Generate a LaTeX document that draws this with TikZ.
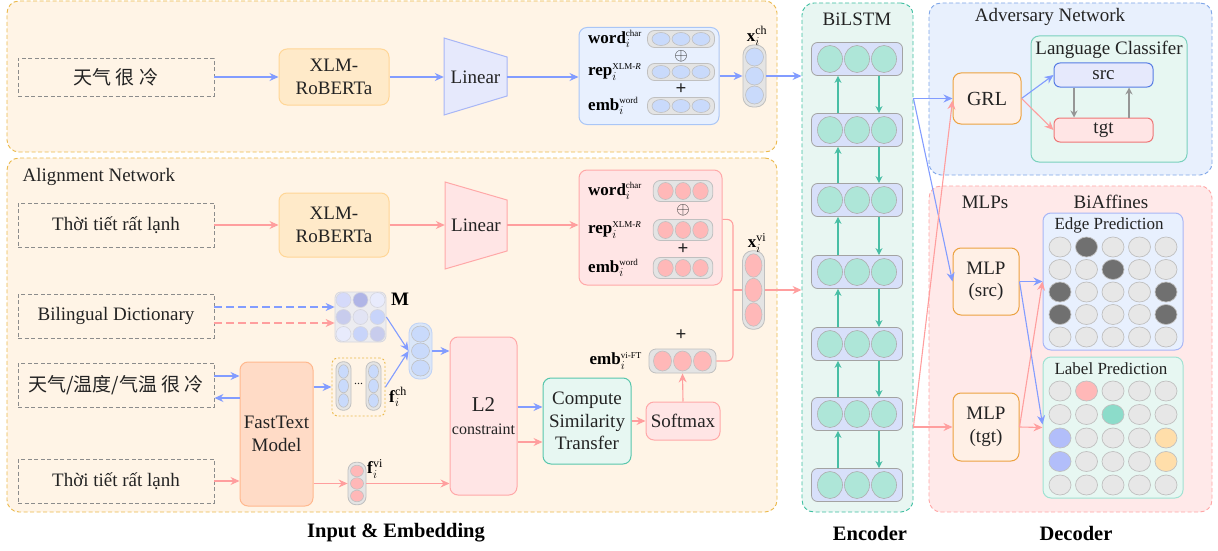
\documentclass[tikz,border=0pt]{standalone}
\usepackage{amsmath}
\usepackage{fontspec}
\setmainfont{Liberation Serif}
\newfontfamily\cjk{Noto Sans CJK SC}
\usetikzlibrary{arrows.meta,shapes.geometric,calc}

% colours
\definecolor{arrblue}{RGB}{130,156,255}
\definecolor{arrpink}{RGB}{255,158,158}
\definecolor{arrteal}{RGB}{72,190,165}
\definecolor{arrgray}{RGB}{150,150,150}
\definecolor{panfill}{RGB}{255,244,230}
\definecolor{panline}{RGB}{235,185,75}
\definecolor{encfill}{RGB}{232,246,242}
\definecolor{encline}{RGB}{60,190,160}
\definecolor{advfill}{RGB}{232,240,253}
\definecolor{advline}{RGB}{125,165,232}
\definecolor{decfill}{RGB}{255,233,233}
\definecolor{decline}{RGB}{255,165,165}
\definecolor{xlmfill}{RGB}{255,234,201}
\definecolor{xlmline}{RGB}{255,214,150}
\definecolor{lavfill}{RGB}{230,233,252}
\definecolor{lavline}{RGB}{168,182,246}
\definecolor{rosefill}{RGB}{255,229,229}
\definecolor{roseline}{RGB}{255,168,168}
\definecolor{skyfill}{RGB}{232,240,254}
\definecolor{skyline}{RGB}{170,198,246}
\definecolor{mintfill}{RGB}{231,247,242}
\definecolor{mintline}{RGB}{88,198,172}
\definecolor{mintsoft}{RGB}{160,226,210}
\definecolor{peachfill}{RGB}{255,219,198}
\definecolor{peachline}{RGB}{255,184,142}
\definecolor{grlfill}{RGB}{255,240,230}
\definecolor{grlline}{RGB}{236,162,64}
\definecolor{srcline}{RGB}{86,124,228}
\definecolor{tgtline}{RGB}{238,118,118}
\definecolor{pillfill}{RGB}{228,228,228}
\definecolor{pillline}{RGB}{192,192,192}
\definecolor{combfill}{RGB}{218,230,248}
\definecolor{combline}{RGB}{190,210,246}
\definecolor{dotblue}{RGB}{201,218,251}
\definecolor{dotpink}{RGB}{255,184,184}
\definecolor{dotteal}{RGB}{174,230,216}
\definecolor{cellfill}{RGB}{216,224,250}
\definecolor{dotgray}{RGB}{231,231,231}
\definecolor{dotdark}{RGB}{112,112,112}
\definecolor{dotmint}{RGB}{140,220,202}
\definecolor{dotsky}{RGB}{178,190,250}
\definecolor{dotsand}{RGB}{255,222,170}
\definecolor{mfill}{RGB}{236,236,240}
\definecolor{mline}{RGB}{214,214,222}
\definecolor{ma}{RGB}{213,218,250}
\definecolor{mb}{RGB}{176,181,230}
\definecolor{mc}{RGB}{232,235,252}
\definecolor{md}{RGB}{200,204,237}
\definecolor{me}{RGB}{226,228,244}
\definecolor{mf}{RGB}{200,212,250}
\definecolor{boxgray}{RGB}{140,140,140}
\definecolor{textgray}{RGB}{35,35,35}

% symbols with index i
\newcommand{\embsym}[2]{\textbf{#1}$_{i}^{\text{\fontsize{9}{10}\selectfont #2}}$}
\newcommand{\vecsym}[2]{\textbf{#1}$_{i}^{\text{\fontsize{12}{12}\selectfont #2}}$}

% lying pill with three dots: name, x, y, dot colour, spacing, height
\newcommand{\hpill}[6]{%
  \node[pillh, minimum width={(3*#5+7)*1pt}, minimum height={#6*1pt}] (#1) at (#2,#3) {};
  \foreach \pk/\po in {a/-1,b/0,c/1}
    \node[pdot, fill=#4, minimum width={(#5-2)*1pt}, minimum height={(#6-4)*1pt}] (#1\pk) at ({#2+\po*#5},#3) {};
}
% standing pill with three dots: name, x, y, width, spacing, dot colour, pill style
\newcommand{\vpill}[7]{%
  \node[pillv, minimum width={#4*1pt}, minimum height={(3*#5+5)*1pt}, #7] (#1) at (#2,#3) {};
  \foreach \pk/\po in {a/-1,b/0,c/1}
    \node[pdot, fill=#6, minimum width={(#4-5)*1pt}, minimum height={(#5-1)*1pt}] (#1\pk) at (#2,{#3+\po*#5}) {};
}

\tikzset{
  txtbase/.style={font=\fontsize{19}{22.5}\selectfont, text=textgray},
  paneldash/.style={rectangle, rounded corners=12pt, dashed, dash pattern=on 4pt off 2.5pt, line width=0.9pt, inner sep=0pt},
  inbox/.style={txtbase, draw=boxgray, dashed, dash pattern=on 4pt off 2.5pt, line width=0.9pt, minimum width=196pt, minimum height=44pt, inner sep=0pt},
  blockbox/.style={txtbase, rectangle, rounded corners=8pt, line width=1pt, align=center, inner sep=0pt},
  pillh/.style={rectangle, rounded corners=7pt, draw=pillline, fill=pillfill, line width=0.8pt, inner sep=0pt},
  pillv/.style={rectangle, rounded corners=7pt, draw=pillline, fill=pillfill, line width=0.8pt, inner sep=0pt},
  pdot/.style={ellipse, draw=pillline, line width=0.6pt, inner sep=0pt},
  cellbox/.style={rectangle, rounded corners=6pt, draw=pillline!85!black, fill=cellfill, line width=0.8pt, minimum width=91pt, minimum height=33pt, inner sep=0pt},
  mdot/.style={ellipse, draw=pillline, line width=0.7pt, minimum width=22pt, minimum height=20pt, inner sep=0pt},
  blink/.style={draw=arrblue, line width=1.1pt, -{Stealth[length=9pt,width=8pt]}},
  plink/.style={draw=arrpink, line width=1.1pt, -{Stealth[length=9pt,width=8pt]}},
  tlink/.style={draw=arrteal, line width=1.1pt, -{Stealth[length=7pt,width=7pt]}},
  glink/.style={draw=arrgray, line width=1.3pt, -{Stealth[length=7pt,width=7pt]}},
  capt/.style={font=\fontsize{20.5}{24}\selectfont\bfseries, text=black},
  ttl/.style={font=\fontsize{19}{22}\selectfont, text=textgray},
  subttl/.style={font=\fontsize{17}{20}\selectfont, text=textgray},
  symlab/.style={font=\fontsize{17}{19}\selectfont, text=black, inner sep=0pt},
}

\begin{document}
\begin{tikzpicture}[x=1pt,y=-1pt]
\useasboundingbox (0,0) rectangle (1218,551);
% Drawing panels
\node[paneldash, draw=panline, fill=panfill, minimum width=770pt, minimum height=151pt] (inpan) at (392,76.5) {};
\node[paneldash, draw=panline, fill=panfill, minimum width=770pt, minimum height=354pt] (alpan) at (392,335) {};
\node[paneldash, draw=encline, fill=encfill, minimum width=111pt, minimum height=509pt] (encpan) at (857.5,257.5) {};
\node[paneldash, draw=advline, fill=advfill, minimum width=283pt, minimum height=172pt] (advpan) at (1070.5,89) {};
\node[paneldash, draw=decline, fill=decfill, minimum width=283pt, minimum height=326pt] (decpan) at (1070.5,349) {};
% Panel titles and captions
\node[ttl, anchor=west] (altitle) at (19,177) {Alignment Network};
\node[ttl] (enctitle) at (857,19) {BiLSTM};
\node[ttl] (advtitle) at (1050,17) {Adversary Network};
\node[ttl] (mlptitle) at (985,202) {MLPs};
\node[ttl] (biatitle) at (1111,202) {BiAffines};
\node[capt] (cap1) at (396,533) {Input \& Embedding};
\node[capt] (cap2) at (870,533) {Encoder};
\node[capt] (cap3) at (1076,533) {Decoder};

% Source row
\node[inbox, minimum height=38pt] (in1) at (116,77) {\cjk 天气 很 冷};
\node[blockbox, draw=xlmline, fill=xlmfill, minimum width=110pt, minimum height=56pt] (xlm1) at (334,77) {XLM-\\RoBERTa};
\draw[draw=lavline, fill=lavfill, line width=1pt] (444,38) -- (507,57) -- (507,96) -- (444,115) -- cycle;
\node[txtbase, minimum width=63pt, minimum height=39pt, inner sep=0pt] (lin1) at (475.5,77) {Linear};
\node[blockbox, draw=skyline, fill=skyfill, minimum width=140pt, minimum height=97pt] (wbox1) at (649,76) {};
\hpill{wc1}{681}{39}{dotblue}{20}{17}
\hpill{wr1}{681}{72}{dotblue}{20}{17}
\hpill{we1}{681}{106}{dotblue}{20}{17}
\node[txtbase] (op1) at (681,56) {$\oplus$};
\node[txtbase, font=\fontsize{19}{19}\selectfont\bfseries] (pl1) at (681,89) {+};
\node[symlab, anchor=west] (lwc1) at (588,39) {\embsym{word}{char}};
\node[symlab, anchor=west] (lwr1) at (588,72) {\embsym{rep}{XLM-\textit{R}}};
\node[symlab, anchor=west] (lwe1) at (588,106) {\embsym{emb}{word}};
\vpill{xch}{754.5}{76}{23}{19}{dotblue}{rounded corners=10pt}
\node[symlab] (lxch) at (757,36) {\vecsym{x}{ch}};
\draw[blink] (in1.east) -- (xlm1.west);
\draw[blink] (xlm1.east) -- (lin1.west);
\draw[blink] (lin1.east) -- (wbox1.west |- lin1.east);
\draw[blink] (wbox1.east |- xch.west) -- (xch.west);
\draw[blink] (xch.east) -- (encpan.west |- xch.east);

% Target row
\node[inbox] (in2) at (116,225) {Thời tiết rất lạnh};
\node[blockbox, draw=xlmline, fill=xlmfill, minimum width=110pt, minimum height=64pt] (xlm2) at (334,225) {XLM-\\RoBERTa};
\draw[draw=roseline, fill=rosefill, line width=1pt] (445,182) -- (507,200) -- (507,251) -- (445,269) -- cycle;
\node[txtbase, minimum width=62pt, minimum height=51pt, inner sep=0pt] (lin2) at (476,225) {Linear};
\node[blockbox, draw=roseline, fill=rosefill, minimum width=143pt, minimum height=115pt] (wbox2) at (650.5,227.5) {};
\hpill{wc2}{683}{191}{dotpink}{17.5}{21}
\hpill{wr2}{683}{230}{dotpink}{17.5}{21}
\hpill{we2}{683}{268}{dotpink}{17.5}{21}
\node[txtbase] (op2) at (683,210) {$\oplus$};
\node[txtbase, font=\fontsize{19}{19}\selectfont\bfseries] (pl2) at (683,249) {+};
\node[symlab, anchor=west] (lwc2) at (588,191) {\embsym{word}{char}};
\node[symlab, anchor=west] (lwr2) at (588,230) {\embsym{rep}{XLM-\textit{R}}};
\node[symlab, anchor=west] (lwe2) at (588,268) {\embsym{emb}{word}};
\vpill{xvi}{753.5}{290}{22}{24.5}{dotpink}{rounded corners=10pt}
\node[symlab] (lxvi) at (757,243) {\vecsym{x}{vi}};
\draw[plink] (in2.east) -- (xlm2.west);
\draw[plink] (xlm2.east) -- (lin2.west);
\draw[plink] (lin2.east) -- (wbox2.west |- lin2.east);
\draw[plink] (xvi.east) -- (encpan.west |- xvi.east);

% Dictionary and FastText
\node[inbox] (in3) at (116,316) {Bilingual Dictionary};
\node[draw=mline, fill=mfill, rounded corners=6pt, line width=0.8pt, minimum width=51pt, minimum height=50pt, inner sep=0pt] (mmat) at (360.5,317) {};
\foreach \ri/\ci/\mc in {1/1/ma,1/2/mb,1/3/mc,2/1/md,2/2/me,2/3/mf,3/1/mc,3/2/mf,3/3/md}
  \node[pdot, fill=\mc, draw=mline, minimum width=15pt, minimum height=15pt] (m\ri\ci) at ({360.5+17*(\ci-2)},{317+17*(\ri-2)}) {};
\node[symlab, font=\fontsize{19}{19}\selectfont\bfseries] (lm) at (400,299) {M};
\coordinate (in3a) at ($(in3.east)+(0,-9)$);
\coordinate (in3b) at ($(in3.east)+(0,7)$);
\draw[blink, dash pattern=on 8pt off 4pt] (in3a) -- (mmat.west |- in3a);
\draw[plink, dash pattern=on 8pt off 4pt] (in3b) -- (mmat.west |- in3b);

\node[inbox] (in4) at (116,385) {\cjk 天气/温度/气温 很 冷};
\node[inbox] (in5) at (116,481) {Thời tiết rất lạnh};
\node[blockbox, draw=peachline, fill=peachfill, minimum width=73pt, minimum height=144pt] (fast) at (276.5,434) {FastText\\Model};
\coordinate (in4a) at ($(in4.east)+(0,-9)$);
\coordinate (in4b) at ($(in4.east)+(0,13)$);
\draw[blink] (in4a) -- (fast.west |- in4a);
\draw[blink] (fast.west |- in4b) -- (in4b);
\draw[plink] (in5.east) -- (fast.west |- in5.east);

\node[draw=panline, dash pattern=on 2pt off 2pt, rounded corners=5pt, line width=0.9pt, minimum width=53pt, minimum height=58pt, inner sep=0pt] (fch) at (358.5,387) {};
\vpill{fcha}{343.5}{386}{15}{14.5}{dotblue}{rounded corners=7pt}
\vpill{fchb}{373.5}{386}{15}{14.5}{dotblue}{rounded corners=7pt}
\node[txtbase, font=\fontsize{12}{12}\selectfont] (fdots) at (358.5,384) {...};
\node[symlab, anchor=west] (lfch) at (389,397) {\vecsym{f}{ch}};
\vpill{fvi}{357}{483.5}{18}{12.5}{dotpink}{rounded corners=8pt}
\node[symlab, anchor=west] (lfvi) at (367,469) {\vecsym{f}{vi}};
\draw[blink] (fast.east |- fch.west) -- (fch.west);
\draw[plink] (fast.east |- fvi.west) -- (fvi.west);

\vpill{comb}{420.5}{351}{23}{17}{dotblue}{draw=combline, fill=combfill, rounded corners=10pt}
\draw[blink] (mmat.east) -- (comb.west);
\draw[blink] (fch.east) -- (comb.west);

% L2 constraint and similarity transfer
\node[blockbox, draw=roseline, fill=rosefill, minimum width=67pt, minimum height=158pt] (l2) at (483.5,416) {{\fontsize{21}{23}\selectfont L2}\\{\fontsize{16}{18}\selectfont constraint}};
\draw[blink] (comb.east) -- (l2.west |- comb.east);
\draw[plink] (fvi.east) -- (l2.west |- fvi.east);
\node[blockbox, draw=mintline, fill=mintfill, minimum width=88pt, minimum height=86pt] (comp) at (587,421) {Compute\\Similarity\\Transfer};
\coordinate (l2a) at ($(l2.east)+(0,-9)$);
\coordinate (l2b) at ($(l2.east)+(0,26)$);
\draw[blink] (l2a) -- (comp.west |- l2a);
\draw[plink] (l2b) -- (comp.west |- l2b);
\node[blockbox, draw=roseline, fill=rosefill, minimum width=74pt, minimum height=38pt] (soft) at (683,421) {Softmax};
\draw[plink] (comp.east) -- (soft.west);
\hpill{embft}{682.5}{361}{dotpink}{20}{24}
\node[symlab, anchor=east] (lembft) at (642,361) {\embsym{emb}{vi-FT}};
\node[txtbase, font=\fontsize{19}{19}\selectfont\bfseries] (pl3) at (681,335) {+};
\draw[plink] (soft.north) -- (embft.south);
\coordinate (brtop) at ($(wbox2.north east)!0.43!(wbox2.south east)$);
\coordinate (brk) at (733,290);
\draw[draw=arrpink, line width=1.1pt, rounded corners=6pt] (brtop) -| (brk) |- (embft.east);
\draw[draw=arrpink, line width=1.1pt] (brk) -- (xvi.west);

% Drawing BiLSTM cells
\foreach \yy [count=\j] in {59,130,200,272,344,414,485}{
  \node[cellbox] (cell\j) at (857,\yy) {};
  \foreach \pk/\po in {a/-27,b/0,c/27}
    \node[pdot, fill=dotteal, draw=pillline!90!black, minimum width=25pt, minimum height=27pt] (cell\j\pk) at ({857+\po},\yy) {};
}
\foreach \j in {1,...,6}{
  \pgfmathtruncatemacro{\nx}{\j+1}
  \draw[tlink] ($(cell\nx.north)+(-19,0)$) -- ($(cell\j.south)+(-19,0)$);
  \draw[tlink] ($(cell\j.south)+(22,0)$) -- ($(cell\nx.north)+(22,0)$);
}

% Adversary network
\node[blockbox, draw=grlline, fill=grlfill, minimum width=68pt, minimum height=51pt, font=\fontsize{20}{24}\selectfont] (grl) at (987,98.5) {GRL};
\node[blockbox, draw=mintline!80, fill=mintfill, minimum width=156pt, minimum height=126pt] (lcls) at (1109,99) {};
\node[ttl] (lclstitle) at (1109,50) {Language Classifer};
\node[blockbox, draw=srcline, fill=lavfill, minimum width=99pt, minimum height=24pt, rounded corners=6pt] (src) at (1103.5,75) {src};
\node[blockbox, draw=tgtline, fill=rosefill, minimum width=99pt, minimum height=24pt, rounded corners=6pt] (tgt) at (1103.5,130) {tgt};
\draw[blink] (grl.east) -- (src.west);
\draw[plink] (grl.east) -- (tgt.west);
\draw[glink] ($(src.south)+(-29.5,0)$) -- ($(tgt.north)+(-29.5,0)$);
\draw[glink] ($(tgt.north)+(25.5,0)$) -- ($(src.south)+(25.5,0)$);

% Decoder
\node[blockbox, draw=grlline, fill=grlfill, minimum width=66pt, minimum height=67pt] (mlps) at (986,281.5) {MLP\\(src)};
\node[blockbox, draw=grlline, fill=grlfill, minimum width=66pt, minimum height=68pt] (mlpt) at (986,427) {MLP\\(tgt)};
\node[blockbox, draw=lavline, fill=skyfill, minimum width=140pt, minimum height=137pt] (edgebox) at (1113,281.5) {};
\node[subttl, anchor=west] (edgetitle) at (1051,225) {Edge Prediction};
\node[blockbox, draw=mintsoft, fill=mintfill, minimum width=140pt, minimum height=141pt] (labbox) at (1113,427.5) {};
\node[subttl, anchor=west] (labtitle) at (1051,369) {Label Prediction};
\foreach \ri in {1,...,5}{
  \foreach \ci in {1,...,5}{
    \def\dc{dotgray}
    \ifnum\ri\ci=12 \def\dc{dotdark}\fi
    \ifnum\ri\ci=23 \def\dc{dotdark}\fi
    \ifnum\ri\ci=31 \def\dc{dotdark}\fi
    \ifnum\ri\ci=35 \def\dc{dotdark}\fi
    \ifnum\ri\ci=41 \def\dc{dotdark}\fi
    \ifnum\ri\ci=45 \def\dc{dotdark}\fi
    \node[mdot, fill=\dc] (ed\ri\ci) at ({1113+26.5*(\ci-3)},{292+22.5*(\ri-3)}) {};
  }
}
\foreach \ri in {1,...,5}{
  \foreach \ci in {1,...,5}{
    \def\dc{dotgray}
    \ifnum\ri\ci=12 \def\dc{dotpink}\fi
    \ifnum\ri\ci=23 \def\dc{dotmint}\fi
    \ifnum\ri\ci=31 \def\dc{dotsky}\fi
    \ifnum\ri\ci=41 \def\dc{dotsky}\fi
    \ifnum\ri\ci=35 \def\dc{dotsand}\fi
    \ifnum\ri\ci=45 \def\dc{dotsand}\fi
    \node[mdot, fill=\dc] (lb\ri\ci) at ({1113+26.5*(\ci-3)},{438+23.5*(\ri-3)}) {};
  }
}

% Encoder to decoder connectors
\coordinate (encb) at (encpan.east |- grl.west);
\coordinate (encp) at (encpan.east |- mlpt.west);
\draw[blink] (encb) -- (grl.west);
\draw[blink] (encb) -- (mlps.west);
\draw[plink] (encp) -- (mlpt.west);
\draw[plink] (encp) -- ($(grl.west)+(0,2)$);
\draw[blink] (mlps.east) -- (edgebox.west);
\draw[blink] (mlps.east) -- ($(labbox.west)+(0,-3)$);
\draw[plink] (mlpt.east) -- (labbox.west);
\draw[plink] (mlpt.east) -- (edgebox.west);
\end{tikzpicture}
\end{document}
